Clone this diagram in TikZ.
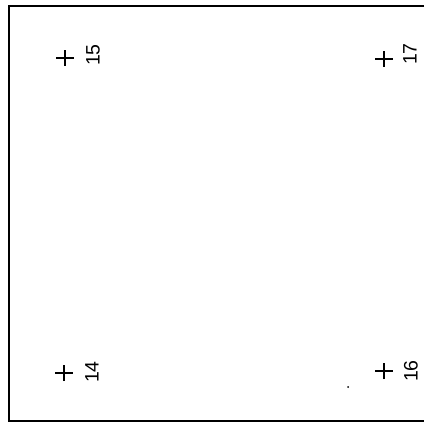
\documentclass[tikz,border=0pt]{standalone}
\usepackage{fontspec}
\setmainfont{Liberation Sans}
\begin{document}
\begin{tikzpicture}[x=1pt,y=-1pt,
  lbl/.style={rotate=90, font=\fontsize{19.5}{20}\selectfont, inner sep=0pt, anchor=center},
  plusmk/.style={line width=1.7pt},
  frame/.style={line width=1.8pt}]
\useasboundingbox (0,0) rectangle (424,425);
\draw[frame] (424,6) -- (9,6) -- (9,421) -- (424,421);
\foreach \n/\x/\y/\lx/\ly in {15/65/58/93/55, 17/384/59/410/54, 14/64/373/92/372, 16/384/371/411/371} {
  \coordinate (p\n) at (\x,\y);
  \draw[plusmk] ([xshift=-9pt]p\n) -- ([xshift=9pt]p\n);
  \draw[plusmk] ([yshift=-8pt]p\n) -- ([yshift=8pt]p\n);
  \node[lbl] (l\n) at (\lx,\ly) {\n};
}
\fill (348,387) circle (1pt);
\end{tikzpicture}
\end{document}
